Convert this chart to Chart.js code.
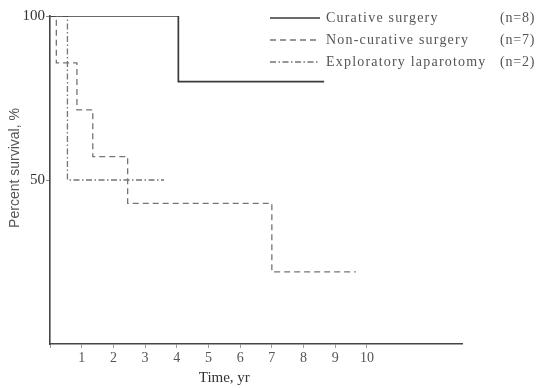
<!DOCTYPE html>
<html>
<head>
<meta charset="utf-8">
<script src="https://cdn.jsdelivr.net/npm/chart.js@4.4.1/dist/chart.umd.min.js"></script>
<style>
  html, body { margin: 0; padding: 0; background: #fff; }
  #wrap { width: 540px; height: 388px; }
</style>
</head>
<body>
<div id="wrap"><canvas id="c" width="540" height="388"></canvas></div>
<script>
// Survival curves (Kaplan-Meier steps): time in years, survival in percent
const curativeTimes = [0, 4.05, 8.65];
const curativeSurv  = [100, 80, 80];

const nonCurativeTimes = [0, 0.2, 0.85, 1.35, 2.45, 7.0, 9.65];
const nonCurativeSurv  = [100, 85.7, 71.4, 57.1, 42.9, 22, 22];

const exploratoryTimes = [0, 0.55, 3.6];
const exploratorySurv  = [100, 50, 50];

const groupNames  = ['Curative surgery', 'Non-curative surgery', 'Exploratory laparotomy'];
const groupCounts = ['(n=8)', '(n=7)', '(n=2)'];

const xTickLabels = ['1', '2', '3', '4', '5', '6', '7', '8', '9', '10'];
const yTickValues = [50, 100];
const xTitle = 'Time, yr';
const yTitle = 'Percent survival, %';

const SERIF = '"Liberation Serif", "DejaVu Serif", serif';
const SANS = '"Liberation Sans", Arial, sans-serif';
const INK = '#444';
const TEXT = '#555';

const toPoints = (ts, ss) => ts.map((t, i) => ({ x: t, y: ss[i] }));

const styles = [
  { color: '#3a3a3a', width: 1.7, dash: [] },
  { color: '#747474', width: 1.3, dash: [6, 4] },
  { color: '#747474', width: 1.3, dash: [6, 2.5, 1.5, 2.5] }
];

const series = [
  toPoints(curativeTimes, curativeSurv),
  toPoints(nonCurativeTimes, nonCurativeSurv),
  toPoints(exploratoryTimes, exploratorySurv)
];

// Legend and axis titles drawn on the canvas
const decorations = {
  id: 'decorations',
  afterDraw(chart) {
    const ctx = chart.ctx;
    const xs = chart.scales.x;
    ctx.save();
    // legend
    const rows = [18, 40, 62];
    groupNames.forEach((name, i) => {
      const st = styles[i];
      ctx.strokeStyle = st.color;
      ctx.lineWidth = st.width;
      ctx.setLineDash(st.dash);
      ctx.beginPath();
      ctx.moveTo(270, rows[i]);
      ctx.lineTo(320, rows[i]);
      ctx.stroke();
      ctx.setLineDash([]);
      ctx.fillStyle = TEXT;
      ctx.font = '14px ' + SERIF;
      ctx.textBaseline = 'middle';
      ctx.textAlign = 'left';
      if ('letterSpacing' in ctx) ctx.letterSpacing = '1.2px';
      ctx.fillText(name, 326, rows[i]);
      ctx.font = '14px ' + SERIF;
      if ('letterSpacing' in ctx) ctx.letterSpacing = '0.8px';
      ctx.fillText(groupCounts[i], 500, rows[i]);
      if ('letterSpacing' in ctx) ctx.letterSpacing = '0px';
    });
    // x title
    ctx.fillStyle = '#333';
    ctx.font = '15px ' + SERIF;
    ctx.textAlign = 'center';
    ctx.textBaseline = 'middle';
    ctx.fillText(xTitle, xs.getPixelForValue(5.5), 378);
    // y title
    ctx.translate(15, 168);
    ctx.rotate(-Math.PI / 2);
    ctx.fillStyle = TEXT;
    ctx.font = '14px ' + SANS;
    ctx.fillText(yTitle, 0, 0);
    ctx.restore();
  }
};

new Chart(document.getElementById('c'), {
  type: 'line',
  data: {
    datasets: series.map((pts, i) => ({
      label: groupNames[i],
      data: pts,
      stepped: 'before',
      borderColor: styles[i].color,
      borderWidth: styles[i].width,
      borderDash: styles[i].dash,
      pointRadius: 0,
      fill: false
    }))
  },
  options: {
    responsive: false,
    animation: false,
    devicePixelRatio: 1,
    layout: { padding: { top: 16, right: 78, left: 0, bottom: 0 } },
    plugins: { legend: { display: false }, tooltip: { enabled: false } },
    scales: {
      x: {
        type: 'linear',
        min: 0, max: 13,
        afterFit(s) { s.height = 44; },
        border: { display: true, color: INK, width: 1.6 },
        grid: {
          drawOnChartArea: false, drawTicks: true, tickLength: 4,
          color: ctx => (ctx.tick && ctx.tick.value <= 10) ? '#999' : 'rgba(0,0,0,0)'
        },
        ticks: {
          stepSize: 1,
          autoSkip: false,
          maxRotation: 0,
          padding: 2,
          color: TEXT,
          font: { family: SERIF, size: 14 },
          callback: v => (v >= 1 && v <= 10) ? xTickLabels[v - 1] : ''
        }
      },
      y: {
        min: 0, max: 100,
        afterFit(s) { s.width = 50; },
        afterBuildTicks(s) { s.ticks = yTickValues.map(v => ({ value: v })); },
        border: { display: true, color: INK, width: 1.6 },
        grid: { drawOnChartArea: false, drawTicks: true, tickLength: 4, color: '#888' },
        ticks: {
          padding: 1,
          color: '#333',
          font: { family: SERIF, size: 15 },
          callback: v => String(v)
        }
      }
    }
  },
  plugins: [decorations]
});
</script>
</body>
</html>
